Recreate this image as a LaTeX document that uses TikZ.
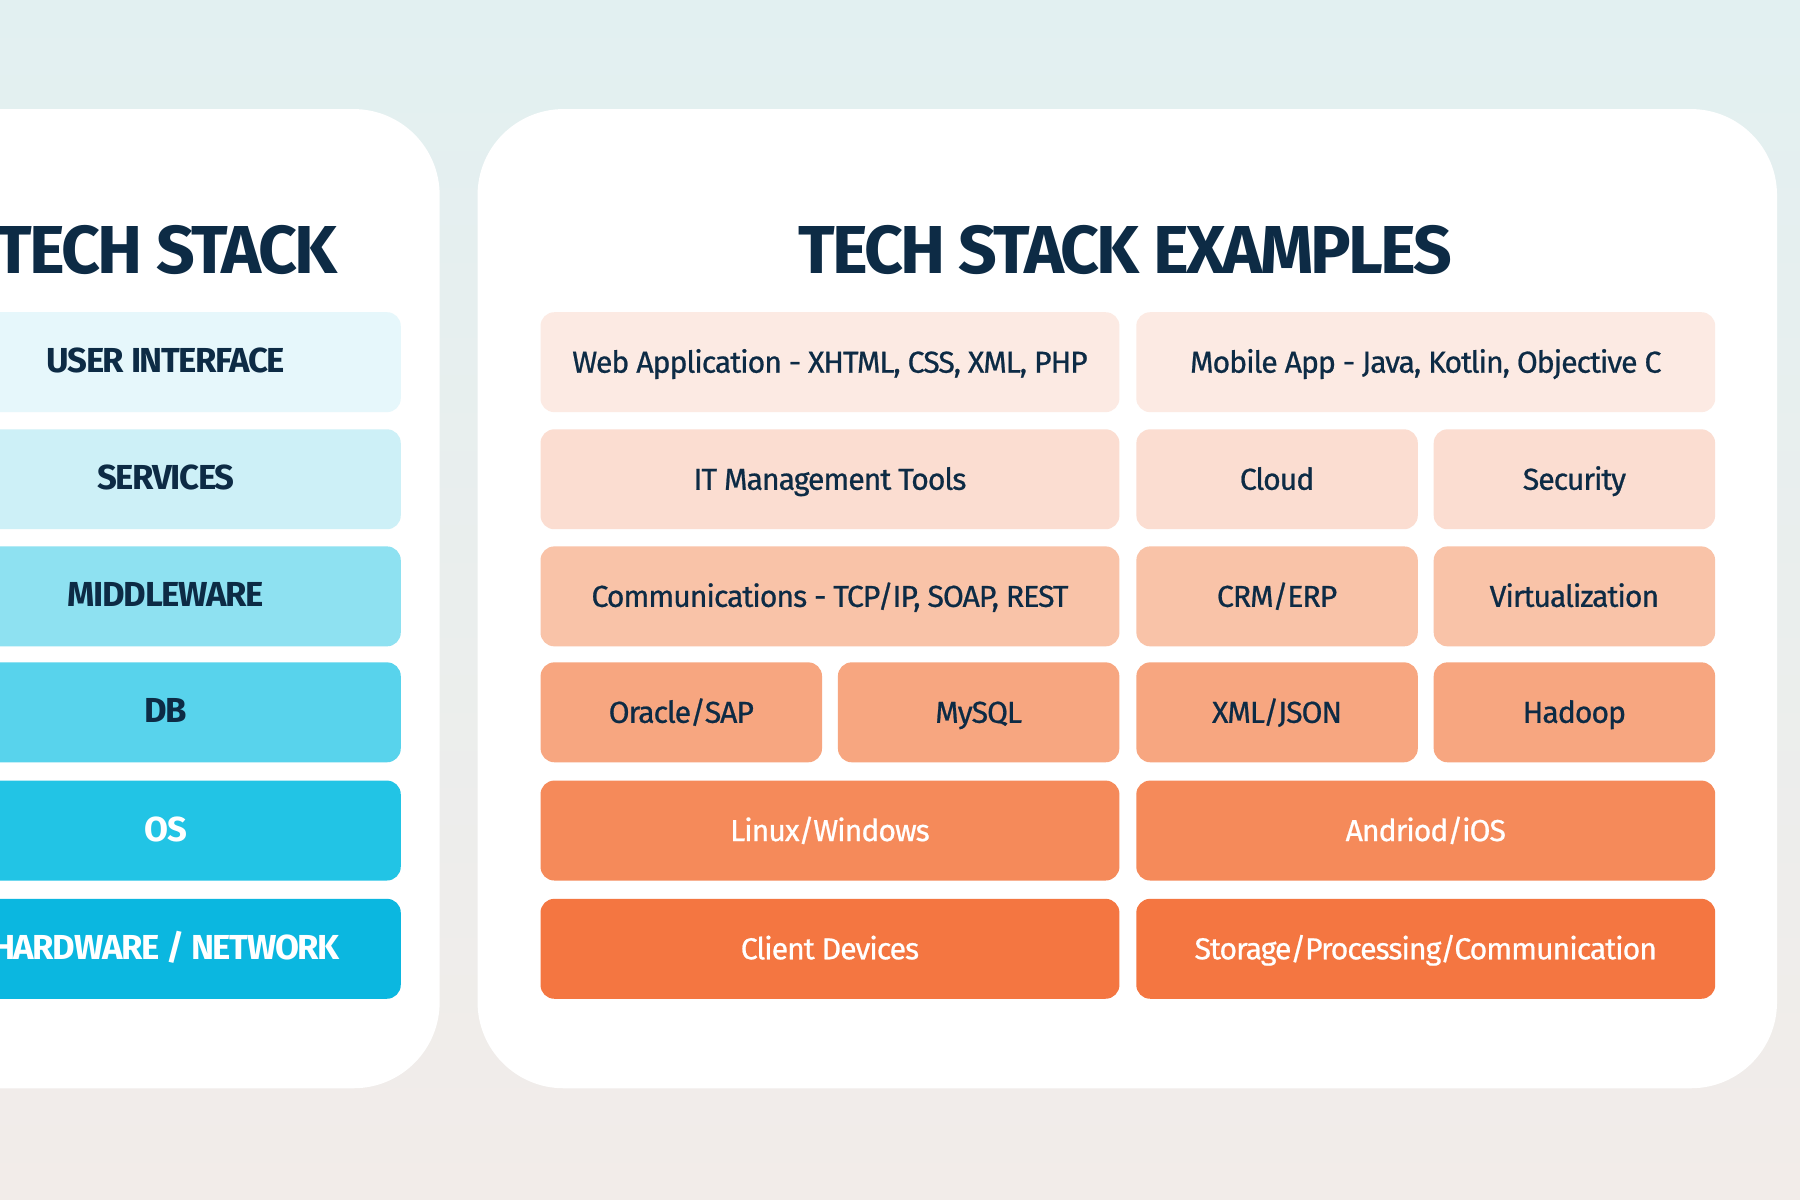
\documentclass[tikz,border=0pt]{standalone}
\usepackage{fontspec}
\setmainfont{Fira Sans}
\newfontfamily\med{Fira Sans}[FakeBold=0.7,LetterSpace=-3.5]
\newfontfamily\bld{Fira Sans}[BoldFont={* Bold},LetterSpace=-4]
\begin{document}
\begin{tikzpicture}[x=0.01cm,y=-0.01cm,
  bar/.style={rounded corners=0.12cm,minimum height=0.87cm,inner sep=0pt,text=navy,text height=0.72em,text depth=0.2em},
  lbar/.style={bar,minimum width=4.09cm,font=\bld\bfseries\fontsize{8.6}{10}\selectfont},
  half/.style={bar,minimum width=5.04cm,font=\med\fontsize{7.5}{9}\selectfont},
  quart/.style={bar,minimum width=2.45cm,font=\med\fontsize{7.5}{9}\selectfont},
  card/.style={fill=white,rounded corners=0.75cm},
  ttl/.style={font=\bld\bfseries\fontsize{16.8}{20}\selectfont,text=navy}]
\definecolor{navy}{HTML}{0D2B45}
\definecolor{bgt}{HTML}{E2F0F1}\definecolor{bgb}{HTML}{F2ECE9}
\definecolor{L1}{HTML}{E6F7FB}\definecolor{L2}{HTML}{CDF0F7}\definecolor{L3}{HTML}{8EE1F1}
\definecolor{L4}{HTML}{58D3EC}\definecolor{L5}{HTML}{22C4E5}\definecolor{L6}{HTML}{0BB7E0}
\definecolor{R1}{HTML}{FCEAE3}\definecolor{R2}{HTML}{FBDDD1}\definecolor{R3}{HTML}{F9C3A8}
\definecolor{R4}{HTML}{F7A680}\definecolor{R5}{HTML}{F58A5A}\definecolor{R6}{HTML}{F47641}
\clip (0,0) rectangle (1568,1045);
\shade[top color=bgt,bottom color=bgb] (0,0) rectangle (1568,1045);
\path[card] (-90,95) rectangle (383,948);
\path[card] (416,95) rectangle (1548,948);
\node[ttl] (t1) at (145,218) {TECH STACK};
\node[ttl] (t2) at (980,218) {TECH STACK EXAMPLES};
\node[lbar,fill=L1] (l1) at (144.5,315.5) {USER INTERFACE};
\node[lbar,fill=L2] (l2) at (144.5,417.5) {SERVICES};
\node[lbar,fill=L3] (l3) at (144.5,519.5) {MIDDLEWARE};
\node[lbar,fill=L4] (l4) at (144.5,620.5) {DB};
\node[lbar,fill=L5,text=white] (l5) at (144.5,723.5) {OS};
\node[lbar,fill=L6,text=white] (l6) at (144.5,826.5) {HARDWARE / NETWORK};
\node[half,fill=R1] (a1) at (723,315.5) {Web Application - XHTML, CSS, XML, PHP};
\node[half,fill=R1] (a2) at (1242,315.5) {Mobile App - Java, Kotlin, Objective C};
\node[half,fill=R2] (b1) at (723,417.5) {IT Management Tools};
\node[quart,fill=R2] (b2) at (1112.5,417.5) {Cloud};
\node[quart,fill=R2] (b3) at (1371.5,417.5) {Security};
\node[half,fill=R3] (c1) at (723,519.5) {Communications - TCP/IP, SOAP, REST};
\node[quart,fill=R3] (c2) at (1112.5,519.5) {CRM/ERP};
\node[quart,fill=R3] (c3) at (1371.5,519.5) {Virtualization};
\node[quart,fill=R4] (d1) at (593.5,620.5) {Oracle/SAP};
\node[quart,fill=R4] (d2) at (852.5,620.5) {MySQL};
\node[quart,fill=R4] (d3) at (1112.5,620.5) {XML/JSON};
\node[quart,fill=R4] (d4) at (1371.5,620.5) {Hadoop};
\node[half,fill=R5,text=white] (e1) at (723,723.5) {Linux/Windows};
\node[half,fill=R5,text=white] (e2) at (1242,723.5) {Andriod/iOS};
\node[half,fill=R6,text=white] (f1) at (723,826.5) {Client Devices};
\node[half,fill=R6,text=white] (f2) at (1242,826.5) {Storage/Processing/Communication};
\end{tikzpicture}
\end{document}
